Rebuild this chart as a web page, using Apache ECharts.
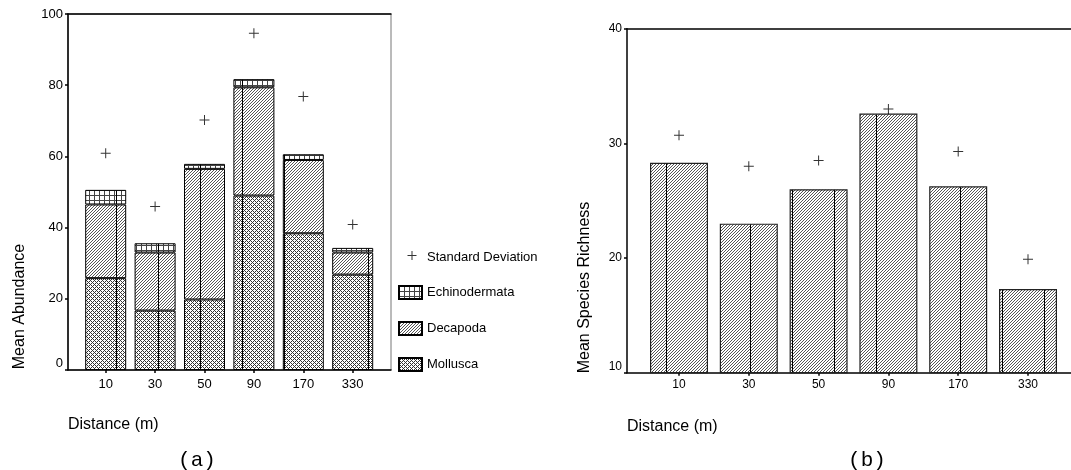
<!DOCTYPE html>
<html><head><meta charset="utf-8">
<script src="https://cdn.jsdelivr.net/npm/echarts@6/dist/echarts.min.js"></script>
<style>html,body{margin:0;padding:0;background:#fff}#c{width:1071px;height:470px}</style>
</head><body><div id="c"></div>
<script>
// ---- data ----
const categories = ['10', '30', '50', '90', '170', '330'];
const mollusca = [25.8, 16.7, 19.8, 49.0, 38.4, 26.8];
const decapoda = [20.7, 16.3, 36.7, 30.4, 20.6, 6.2];
const echinodermata = [4.1, 2.6, 1.4, 2.3, 1.6, 1.3];
const abundanceSD = [60.9, 45.9, 70.2, 94.6, 76.8, 40.9];
const richness = [28.3, 23.0, 26.0, 32.6, 26.25, 17.3];
const richnessSD = [30.7, 28.0, 28.5, 33.0, 29.3, 19.9];
const abundanceTicks = [0, 20, 40, 60, 80, 100];
const richnessTicks = [10, 20, 30, 40];

const F = 'Liberation Sans, Arial, sans-serif';

function makePattern(kind, seam) {
  const W = 42, H = 60;
  const c = document.createElement('canvas');
  c.width = W; c.height = H;
  const g = c.getContext('2d');
  g.fillStyle = '#fff'; g.fillRect(0, 0, W, H);
  for (let x = 0; x < W; x++) {
    const u = (x - seam + W) % W;
    for (let y = 0; y < H; y++) {
      let col = null;
      if (u === 0) col = '#000';
      else if (kind === 'diag') { if ((u + y) % 3 === 0) col = '#555'; }
      else if (kind === 'cross') { if ((u + y) % 4 === 0 || (u - y + 400) % 4 === 0) col = '#333'; }
      else if (kind === 'grid') { if (u % 5 === 0 || y % 5 === 0) col = '#444'; }
      if (col) { g.fillStyle = col; g.fillRect(x, y, 1, 1); }
    }
  }
  return { image: c, repeat: 'repeat' };
}
const patCross = makePattern('cross', 32);
const patDiagL = makePattern('diag', 32);
const patGrid = makePattern('grid', 32);
const patDiagR = makePattern('diag', 36);

const legendCross = 'path://M0,0L0.01,0L0.01,0.01Z M23,13L22.99,13L22.99,12.99Z M12.5,0H13.5V9H12.5Z M8.5,4H17.5V5H8.5Z';
const plusSymbol = 'path://M4.5,0H5.5V10H4.5Z M0,4.5H10V5.5H0Z';
const axisBlack = { color: '#000', width: 1.5 };

// frame y axis with ticks and labels
function yFrame(gi, ticks, fs) {
  const mn = ticks[0];
  return {
    gridIndex: gi, type: 'value', min: mn, max: ticks[ticks.length - 1],
    interval: ticks[1] - ticks[0],
    axisLine: { show: true, onZero: false, lineStyle: axisBlack },
    axisTick: { show: true, length: 3, lineStyle: axisBlack },
    splitLine: { show: false },
    axisLabel: {
      fontSize: fs, color: '#000', fontFamily: F, margin: 5,
      formatter: v => v === mn ? '{lo|' + v + '}' : String(v),
      rich: { lo: { fontSize: fs, fontFamily: F, color: '#000', padding: [0, 0, 13, 0] } }
    }
  };
}
// hidden y axis for the data grid, same scale
function yData(gi, ticks) {
  return { gridIndex: gi, type: 'value', show: false, min: ticks[0], max: ticks[ticks.length - 1], interval: ticks[1] - ticks[0], splitLine: { show: false } };
}
// frame x axis: only the line
function xFrame(gi, pos) {
  return {
    gridIndex: gi, type: 'value', position: pos, min: 0, max: 1,
    axisLine: { show: true, onZero: false, lineStyle: axisBlack },
    axisTick: { show: false }, axisLabel: { show: false }, splitLine: { show: false }
  };
}
// category axis for the bars: ticks + labels, no line
function xData(gi, fs, margin) {
  return {
    gridIndex: gi, type: 'category', data: categories, boundaryGap: true,
    axisLine: { show: false, onZero: false },
    axisTick: { show: true, alignWithLabel: true, length: 3, lineStyle: axisBlack },
    splitLine: { show: false },
    axisLabel: { fontSize: fs, color: '#000', fontFamily: F, margin: margin, interval: 0 }
  };
}

const chart = echarts.init(document.getElementById('c'));
chart.setOption({
  animation: false,
  textStyle: { fontFamily: F },
  grid: [
    { left: 68, top: 14, width: 323, height: 356, show: true, borderColor: '#777', borderWidth: 1, backgroundColor: 'transparent' },
    { left: 81, top: 14, width: 296.4, height: 356 },
    { left: 627, top: 28.7, width: 449, height: 344 },
    { left: 644.1, top: 28.7, width: 418.8, height: 344 }
  ],
  xAxis: [
    xFrame(0, 'bottom'), xFrame(0, 'top'),
    xData(1, 13, 8),
    xFrame(2, 'bottom'), xFrame(2, 'top'),
    xData(3, 12, 6)
  ],
  yAxis: [yFrame(0, abundanceTicks, 13), yData(1, abundanceTicks), yFrame(2, richnessTicks, 12), yData(3, richnessTicks)],
  legend: {
    left: 398, top: 251, orient: 'vertical', itemWidth: 23, itemHeight: 13, itemGap: 21, padding: 0,
    selectedMode: false,
    textStyle: { fontSize: 13, color: '#000', fontFamily: F },
    data: [
      { name: 'Standard Deviation', icon: legendCross },
      { name: 'Echinodermata', icon: 'rect' },
      { name: 'Decapoda', icon: 'rect' },
      { name: 'Mollusca', icon: 'rect' }
    ]
  },
  series: [
    { name: 'Mollusca', type: 'bar', xAxisIndex: 2, yAxisIndex: 1, stack: 'ab', barWidth: 41,
      data: mollusca, itemStyle: { color: patCross, borderColor: '#000', borderWidth: 1 } },
    { name: 'Decapoda', type: 'bar', xAxisIndex: 2, yAxisIndex: 1, stack: 'ab', barWidth: 41,
      data: decapoda, itemStyle: { color: patDiagL, borderColor: '#000', borderWidth: 1 } },
    { name: 'Echinodermata', type: 'bar', xAxisIndex: 2, yAxisIndex: 1, stack: 'ab', barWidth: 41,
      data: echinodermata, itemStyle: { color: patGrid, borderColor: '#000', borderWidth: 1 } },
    { name: 'Standard Deviation', type: 'scatter', xAxisIndex: 2, yAxisIndex: 1, symbol: plusSymbol, symbolSize: 10,
      data: abundanceSD, itemStyle: { color: '#000' }, z: 5 },
    { name: 'Richness', type: 'bar', xAxisIndex: 5, yAxisIndex: 3, barWidth: 58, clip: true,
      data: richness, itemStyle: { color: patDiagR, borderColor: '#222', borderWidth: 1.2 } },
    { name: 'Richness SD', type: 'scatter', xAxisIndex: 5, yAxisIndex: 3, symbol: plusSymbol, symbolSize: 10,
      data: richnessSD, itemStyle: { color: '#000' }, z: 5 }
  ],
  graphic: [
    { type: 'text', x: 20, y: 306.5, rotation: Math.PI / 2, style: { text: 'Mean Abundance', fontSize: 16, fontFamily: F, fill: '#000', align: 'center', verticalAlign: 'middle' } },
    { type: 'text', x: 585, y: 287.5, rotation: Math.PI / 2, style: { text: 'Mean Species Richness', fontSize: 16, fontFamily: F, fill: '#000', align: 'center', verticalAlign: 'middle' } },
    { type: 'text', x: 68, y: 425, style: { text: 'Distance (m)', fontSize: 16, fontFamily: F, fill: '#000', align: 'left', verticalAlign: 'middle' } },
    { type: 'text', x: 627, y: 427, style: { text: 'Distance (m)', fontSize: 16, fontFamily: F, fill: '#000', align: 'left', verticalAlign: 'middle' } },
    { type: 'text', x: 197, y: 460, style: { text: '(a)', fontSize: 21, fontFamily: 'Liberation Mono, monospace', fill: '#000', align: 'center', verticalAlign: 'middle' } },
    { type: 'text', x: 867, y: 460, style: { text: '(b)', fontSize: 21, fontFamily: 'Liberation Mono, monospace', fill: '#000', align: 'center', verticalAlign: 'middle' } }
  ]
});
</script>
</body></html>
